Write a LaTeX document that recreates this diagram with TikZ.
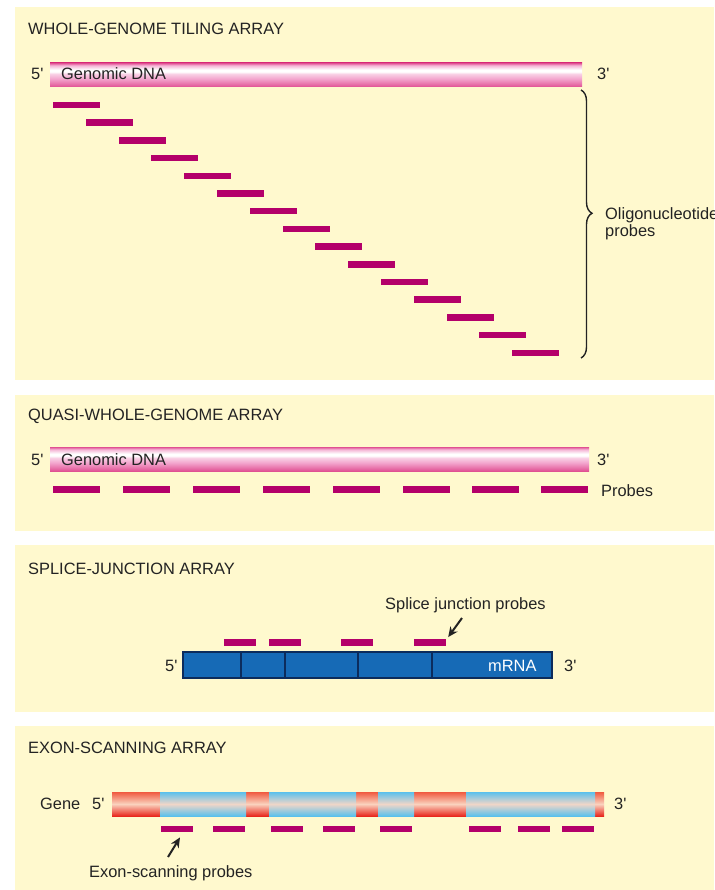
\documentclass[tikz,border=0pt]{standalone}
\usepackage{fontspec}
\setmainfont{Liberation Sans}
\usetikzlibrary{decorations.pathreplacing,arrows.meta}
\definecolor{panelcol}{RGB}{255,249,206}
\definecolor{probecol}{RGB}{180,0,106}
\definecolor{dnaedge}{RGB}{224,80,146}
\definecolor{dnapink}{RGB}{242,160,202}
\definecolor{mrnacol}{RGB}{22,106,182}
\definecolor{mrnaline}{RGB}{12,44,92}
\definecolor{exredtop}{RGB}{240,90,64}
\definecolor{exredbot}{RGB}{232,40,30}
\definecolor{expeach}{RGB}{250,210,190}
\definecolor{exblue}{RGB}{90,192,236}
\definecolor{exmid}{RGB}{240,214,200}
\definecolor{txtcol}{RGB}{35,35,35}
\pgfdeclareverticalshading{dnashade}{100bp}{color(0bp)=(dnaedge); color(25bp)=(dnaedge); color(31bp)=(dnaedge!60!dnapink); color(41bp)=(dnapink); color(52bp)=(white!50!dnapink); color(57bp)=(white); color(61bp)=(white); color(70bp)=(dnapink!80!white); color(75bp)=(dnaedge); color(100bp)=(dnaedge)}
\pgfdeclareverticalshading{redshade}{100bp}{color(0bp)=(exredbot); color(25bp)=(exredbot); color(50bp)=(expeach); color(75bp)=(exredtop); color(100bp)=(exredtop)}
\pgfdeclareverticalshading{blueshade}{100bp}{color(0bp)=(exblue); color(25bp)=(exblue); color(50bp)=(exmid); color(75bp)=(exblue); color(100bp)=(exblue)}
\newcommand{\primemark}{\textquotesingle}
\begin{document}
\begin{tikzpicture}[x=1pt,y=-1pt,
  txt/.style={anchor=base west, inner sep=0pt, font=\fontsize{16.4}{19}\selectfont, text=txtcol},
  probe/.style={fill=probecol, inner sep=0pt, minimum width=47pt, minimum height=6.5pt},
  sprobe/.style={probe, minimum width=32pt},
  panelbg/.style={fill=panelcol},
  arr/.style={-{Stealth[length=10pt,width=9pt]}, line width=2pt, txtcol}]
\useasboundingbox (0,0) rectangle (714,890);
\fill[white] (0,0) rectangle (714,890);
\fill[panelbg] (15,7) rectangle (714,380);
\fill[panelbg] (15,395) rectangle (714,531);
\fill[panelbg] (15,545) rectangle (714,712);
\fill[panelbg] (15,726) rectangle (714,890);

% Panel 1
\node[txt] (t1) at (28,35) {WHOLE-GENOME TILING ARRAY};
\shade[shading=dnashade] (50,63) rectangle (582,87);
\node[txt] (a5) at (31,80) {5\primemark};
\node[txt] (ag) at (61,80) {Genomic DNA};
\node[txt] (a3) at (597,80) {3\primemark};
\foreach \i in {0,...,14} \node[probe] (w\i) at ({76.5+32.8*\i},{105+17.7*\i}) {};
\draw[txtcol, line width=1.4pt, decorate, decoration={brace, amplitude=11pt, aspect=0.46}] (581,90) -- (581,358);
\node[txt] (ol) at (605,220) {Oligonucleotide};
\node[txt] (op) at (605,237) {probes};

% Panel 2
\node[txt] (t2) at (28,420) {QUASI-WHOLE-GENOME ARRAY};
\shade[shading=dnashade] (50,447) rectangle (589,471);
\node[txt] (b5) at (31,465) {5\primemark};
\node[txt] (bg) at (61,465) {Genomic DNA};
\node[txt] (b3) at (597,465) {3\primemark};
\foreach \x [count=\i] in {53,123,193,263,333,403,472,541} \node[probe] (q\i) at ({\x+23.5},489.5) {};
\node[txt] (pp) at (601,496) {Probes};

% Panel 3
\node[txt] (t3) at (28,574) {SPLICE-JUNCTION ARRAY};
\node[txt] (sl) at (385,609) {Splice junction probes};
\foreach \x [count=\i] in {240,285,356.5,430} \node[sprobe] (s\i) at (\x,642.5) {};
\draw[fill=mrnacol, draw=mrnaline, line width=1.3pt] (183,652) rectangle (552,678);
\foreach \x in {241,285,358,432} \draw[mrnaline, line width=1.3pt] (\x,652) -- (\x,678);
\node[txt] (c5) at (165,671) {5\primemark};
\node[txt, text=white] (cm) at (488,671) {mRNA};
\node[txt] (c3) at (564,671) {3\primemark};
\coordinate (sjt) at (462,618);
\draw[arr] (sjt) -- ([xshift=2pt,yshift=2pt]s4.north east);

% Panel 4
\node[txt] (t4) at (28,753) {EXON-SCANNING ARRAY};
\node[txt] (gg) at (40,809) {Gene};
\node[txt] (g5) at (92,809) {5\primemark};
\node[txt] (g3) at (614,809) {3\primemark};
\foreach \a/\b in {112/160,246/269,356/378,414/466,595/604} \shade[shading=redshade] (\a,792) rectangle (\b,816);
\foreach \a/\b in {160/246,269/356,378/414,466/595} \shade[shading=blueshade] (\a,792) rectangle (\b,816);
\foreach \x [count=\i] in {177,229,287,338.5,396,485,534,577.5} \node[sprobe] (e\i) at (\x,829) {};
\node[txt] (el) at (89,877) {Exon-scanning probes};
\coordinate (ext) at (168,857);
\draw[arr] (ext) -- ([xshift=3pt,yshift=-5pt]e1.south);
\end{tikzpicture}
\end{document}
